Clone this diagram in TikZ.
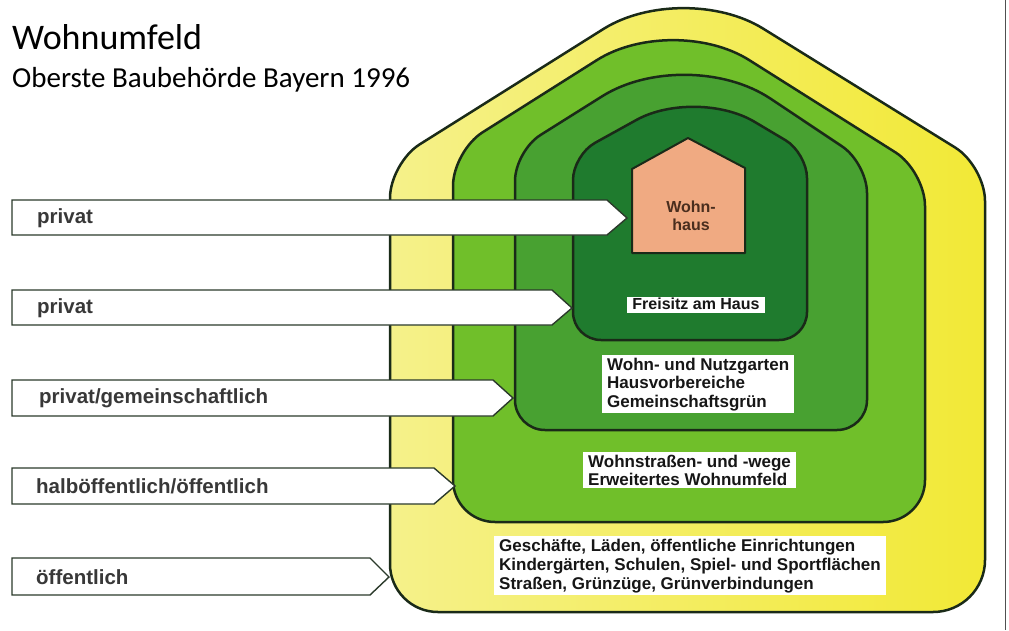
\documentclass[tikz,border=0pt]{standalone}
\usepackage{fontspec}
\setmainfont{Liberation Sans}
\newfontfamily\titlefont{Carlito}
\usepackage{xcolor}
\usetikzlibrary{positioning}

\definecolor{yellowL}{HTML}{F5F18A}
\definecolor{yellowR}{HTML}{F2E936}
\definecolor{greenA}{HTML}{70BF2A}
\definecolor{greenB}{HTML}{48A131}
\definecolor{greenC}{HTML}{1F7B2E}
\definecolor{houseSalmon}{HTML}{F0AA82}
\definecolor{outline}{HTML}{1A2A18}
\definecolor{bandline}{HTML}{2B3A2B}
\definecolor{labelgray}{HTML}{383838}
\definecolor{tagtext}{HTML}{161616}
\definecolor{housetext}{HTML}{4A2E1E}
\definecolor{scanline}{HTML}{505050}

\begin{document}
\begin{tikzpicture}[x=1pt, y=-1pt,
		ring/.style={draw=outline, line width=2.5pt, line join=round},
		band/.style={draw=bandline, line width=1.4pt, fill=white},
		bandtext/.style={anchor=west, inner sep=0pt, text=labelgray, font=\bfseries\fontsize{20.5}{24}\selectfont},
		tag/.style={fill=white, inner xsep=5pt, inner ysep=2.5pt, align=left, anchor=north west, text=tagtext, font=\bfseries\fontsize{17}{18.5}\selectfont}
		]
	\useasboundingbox (0,0) rectangle (1009,630);
	
		% --- Titel ---
		\node[anchor=base west, inner sep=0pt, font=\titlefont\fontsize{36}{40}\selectfont] (title) at (12,49) {Wohnumfeld};
		\node[anchor=base west, inner sep=0pt, font=\titlefont\fontsize{29}{32}\selectfont] (source) at (12,87) {Oberste Baubehörde Bayern 1996};
	
		% --- Zonen (von aussen nach innen) ---
		\draw[ring, left color=yellowL, right color=yellowR] (690,612) [rounded corners=48] -- (390,612) [rounded corners=35] -- (390,163) [rounded corners=94] -- (683,-21) [rounded corners=35] -- (985,166) [rounded corners=52] -- (985,612) -- cycle;
		\draw[ring, fill=greenA] (690,522) [rounded corners=42] -- (453,522) [rounded corners=35] -- (453,151) [rounded corners=90] -- (673,12) [rounded corners=35] -- (925,171) [rounded corners=42] -- (925,522) -- cycle;
		\draw[ring, fill=greenB] (690,430) [rounded corners=30] -- (515,430) [rounded corners=30] -- (515,151) [rounded corners=100] -- (687,43) [rounded corners=30] -- (867,163) [rounded corners=30] -- (867,430) -- cycle;
		\draw[ring, fill=greenC] (690,340) [rounded corners=28] -- (573,340) [rounded corners=25] -- (573,155) [rounded corners=68] -- (696,87) [rounded corners=25] -- (807,153) [rounded corners=28] -- (807,340) -- cycle;
		\draw[ring, fill=houseSalmon, line width=2pt] (632,253) -- (632,169) -- (688,138) -- (745,168) -- (745,253) -- cycle;
	
		% --- Beschriftungen der Zonen ---
		\node[align=center, inner sep=0pt, text=housetext, font=\bfseries\fontsize{16}{18}\selectfont] (wohnhaus) at (691,216) {Wohn-\\haus};
		\node[tag, anchor=center, inner ysep=1pt, text height=11.5pt, text depth=2.5pt, font=\bfseries\fontsize{16}{18}\selectfont] (freisitz) at (696,304.5) {Freisitz am Haus};
		\node[tag] (garten) at (602,355) {Wohn- und Nutzgarten\\Hausvorbereiche\\Gemeinschaftsgrün};
		\node[tag] (wege) at (583,452) {Wohnstraßen- und -wege\\Erweitertes Wohnumfeld};
		\node[tag, font=\bfseries\fontsize{17}{19}\selectfont] (laeden) at (494,536) {Geschäfte, Läden, öffentliche Einrichtungen\\Kindergärten, Schulen, Spiel- und Sportflächen\\Straßen, Grünzüge, Grünverbindungen};
	
		% --- Pfeile links ---
		\draw[band] (12,200) -- (607,200) -- (627,218) -- (607,235) -- (12,235) -- cycle;
		\node[bandtext] (privatA) at (37,218) {privat};
		\draw[band] (12,290) -- (552,290) -- (572,308) -- (552,325) -- (12,325) -- cycle;
		\node[bandtext] (privatB) at (37,308) {privat};
		\draw[band] (12,380) -- (493,380) -- (513,398) -- (493,416) -- (12,416) -- cycle;
		\node[bandtext] (gemein) at (39,398) {privat/gemeinschaftlich};
		\draw[band] (12,468) -- (434,468) -- (455,486) -- (434,504) -- (12,504) -- cycle;
		\node[bandtext] (halb) at (36,486) {halböffentlich/öffentlich};
		\draw[band] (12,558) -- (370,558) -- (389,577) -- (370,595) -- (12,595) -- cycle;
		\node[bandtext] (oeffentlich) at (36,577) {öffentlich};
	
		% Rand des Scans
		\draw[draw=scanline, line width=1pt] (1005,0) -- (1005,630);
	
	\end{tikzpicture}
\end{document}
